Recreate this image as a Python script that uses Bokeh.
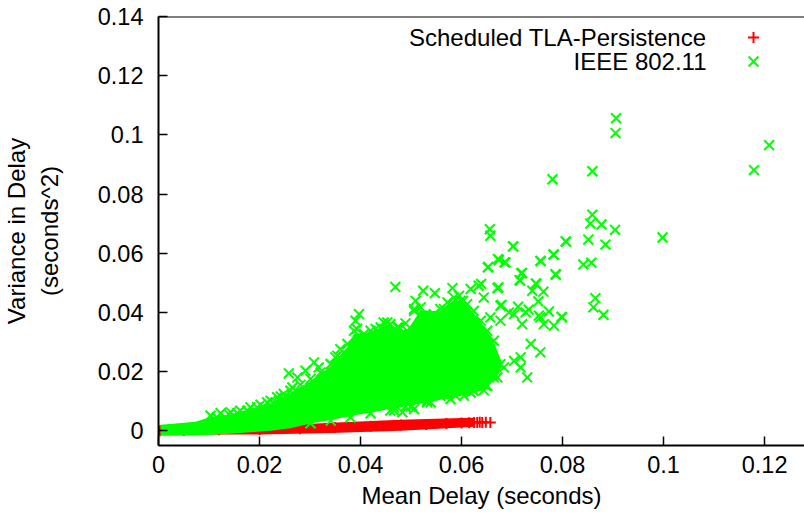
from bokeh.plotting import figure
from bokeh.models import Range1d, Span, Label, FixedTicker
from bokeh.embed import file_html
from bokeh.resources import INLINE

FONT = "Liberation Sans"

# ---------------- data ----------------
x_ticks = [0, 0.02, 0.04, 0.06, 0.08, 0.10, 0.12]
x_tick_labels = ["0", "0.02", "0.04", "0.06", "0.08", "0.1", "0.12"]
y_ticks = [0, 0.02, 0.04, 0.06, 0.08, 0.10, 0.12, 0.14]
y_tick_labels = ["0", "0.02", "0.04", "0.06", "0.08", "0.1", "0.12", "0.14"]

series_names = ["Scheduled TLA-Persistence", "IEEE 802.11"]
x_title = "Mean Delay (seconds)"
y_title = "Variance in Delay\n(seconds^2)"

# Scheduled TLA-Persistence: dense band (envelope of the overlapping markers)
red_band_x = [0.0, 0.0202, 0.0341, 0.0479, 0.0600, 0.0625]
red_band_lo = [-0.0013, -0.0013, -0.0008, 0.0000, 0.0011, 0.0013]
red_band_hi = [0.0010, 0.0014, 0.0027, 0.0037, 0.0043, 0.0044]
# individual points visible at the band's edges
red_x = [0.0003, 0.0050, 0.0120, 0.0200, 0.0280, 0.0350, 0.0420, 0.0480, 0.0530,
         0.0570, 0.0600, 0.0615, 0.0625, 0.0631, 0.0636, 0.0641, 0.0648, 0.0657]
red_y = [0.0000, 0.0001, 0.0003, 0.0004, 0.0007, 0.0011, 0.0015, 0.0019, 0.0021,
         0.0024, 0.0026, 0.0027, 0.0028, 0.0028, 0.0029, 0.0028, 0.0029, 0.0028]

# IEEE 802.11: dense cloud (envelope of the overlapping markers)
green_cloud_x = [0.0004, 0.0034, 0.0073, 0.0103, 0.0143, 0.0182, 0.0222, 0.0261, 0.0301,
                 0.0341, 0.0374, 0.0387, 0.0420, 0.0453, 0.0492, 0.0519, 0.0558, 0.0585,
                 0.0611, 0.0638, 0.0664, 0.0680]
green_cloud_hi = [0.0020, 0.0024, 0.0030, 0.0046, 0.0056, 0.0073, 0.0093, 0.0128, 0.0168,
                  0.0218, 0.0283, 0.0328, 0.0333, 0.0358, 0.0338, 0.0408, 0.0403, 0.0443,
                  0.0423, 0.0368, 0.0300, 0.0230]
green_cloud_lo = [-0.0017, -0.0017, -0.0015, -0.0014, -0.0010, -0.0005, 0.0000, 0.0008, 0.0024,
                  0.0036, 0.0047, 0.0052, 0.0061, 0.0072, 0.0083, 0.0092, 0.0105, 0.0112,
                  0.0122, 0.0135, 0.0172, 0.0215]

# individual points: upper fringe of the cloud
green_top_x = [0.0103, 0.0123, 0.0143, 0.0162, 0.0182, 0.0202, 0.0222, 0.0242, 0.0261, 0.0281,
               0.0301, 0.0321, 0.0341, 0.0354, 0.0374, 0.0387, 0.0407, 0.0420, 0.0440, 0.0453,
               0.0473, 0.0492, 0.0506, 0.0519, 0.0532, 0.0545, 0.0558, 0.0572, 0.0585, 0.0598,
               0.0611, 0.0624, 0.0638, 0.0651, 0.0664]
green_top_y = [0.0051, 0.0059, 0.0062, 0.0068, 0.0079, 0.0088, 0.0101, 0.0116, 0.0135, 0.0155,
               0.0175, 0.0197, 0.0225, 0.0253, 0.0293, 0.0338, 0.0327, 0.0338, 0.0349, 0.0366,
               0.0349, 0.0338, 0.0405, 0.0417, 0.0383, 0.0394, 0.0411, 0.0434, 0.0450, 0.0439,
               0.0428, 0.0405, 0.0372, 0.0338, 0.0304]
# individual points: lower fringe of the cloud
green_bot_x = [0.0301, 0.0341, 0.0380, 0.0420, 0.0459, 0.0466, 0.0483, 0.0499, 0.0502, 0.0532,
               0.0539, 0.0558, 0.0578, 0.0588, 0.0618, 0.0644, 0.0648, 0.0671, 0.0677]
green_bot_y = [0.0025, 0.0034, 0.0045, 0.0059, 0.0068, 0.0068, 0.0062, 0.0081, 0.0084, 0.0096,
               0.0096, 0.0118, 0.0107, 0.0118, 0.0129, 0.0137, 0.0152, 0.0180, 0.0225]
# individual points: scattered outliers
green_x = [0.0116, 0.0139, 0.0156, 0.0176, 0.0195, 0.0215, 0.0235, 0.0248, 0.0265, 0.0258,
           0.0275, 0.0291, 0.0308, 0.0317, 0.0341, 0.0350, 0.0360, 0.0374, 0.0390, 0.0397,
           0.0393, 0.0413, 0.0430, 0.0446, 0.0459, 0.0476, 0.0489, 0.0469, 0.0509, 0.0524,
           0.0547, 0.0506, 0.0565, 0.0582, 0.0603, 0.0595, 0.0618, 0.0634, 0.0639, 0.0644,
           0.0653, 0.0657, 0.0671, 0.0674, 0.0677, 0.0687, 0.0702, 0.0704, 0.0704, 0.0684,
           0.0651, 0.0605, 0.0565, 0.0506, 0.0489, 0.0466, 0.0532, 0.0624, 0.0664, 0.0717,
           0.0717, 0.0730, 0.0737, 0.0756, 0.0727, 0.0753, 0.0799, 0.0718, 0.0716, 0.0748,
           0.0756, 0.0783, 0.0786, 0.0806,
           0.0906, 0.0905, 0.1209, 0.1179, 0.0859, 0.0780, 0.0859, 0.0855, 0.0877, 0.0904,
           0.0998, 0.0656, 0.0851, 0.0885, 0.0807, 0.0782, 0.0757, 0.0841, 0.0857, 0.0787,
           0.0747, 0.0740, 0.0762, 0.0865, 0.0861, 0.0881, 0.0752, 0.0733, 0.0773, 0.0798,
           0.0756, 0.0694, 0.0657, 0.0677, 0.0720, 0.0783, 0.0763, 0.0679, 0.0712, 0.0673,
           0.0715, 0.0720, 0.0652, 0.0685, 0.0672, 0.0702]
green_y = [0.0045, 0.0056, 0.0059, 0.0068, 0.0079, 0.0096, 0.0113, 0.0124, 0.0146, 0.0194,
           0.0180, 0.0203, 0.0231, 0.0214, 0.0225, 0.0248, 0.0276, 0.0253, 0.0372, 0.0394,
           0.0344, 0.0315, 0.0344, 0.0366, 0.0360, 0.0349, 0.0363, 0.0486, 0.0439, 0.0473,
           0.0465, 0.0411, 0.0411, 0.0482, 0.0439, 0.0456, 0.0479, 0.0490, 0.0496, 0.0450,
           0.0554, 0.0659, 0.0482, 0.0577, 0.0422, 0.0569, 0.0623, 0.0394, 0.0236, 0.0214,
           0.0152, 0.0118, 0.0124, 0.0073, 0.0081, 0.0079, 0.0101, 0.0135, 0.0180, 0.0248,
           0.0214, 0.0180, 0.0293, 0.0265, 0.0400, 0.0389, 0.0383, 0.0532, 0.0507, 0.0496,
           0.0574, 0.0595, 0.0529, 0.0640,
           0.1056, 0.1006, 0.0965, 0.0881, 0.0877, 0.0850, 0.0730, 0.0700, 0.0697, 0.0679,
           0.0653, 0.0681, 0.0646, 0.0629, 0.0639, 0.0596, 0.0573, 0.0562, 0.0568, 0.0527,
           0.0498, 0.0473, 0.0470, 0.0448, 0.0417, 0.0392, 0.0437, 0.0409, 0.0403, 0.0385,
           0.0383, 0.0400, 0.0383, 0.0372, 0.0360, 0.0355, 0.0360, 0.0425, 0.0419, 0.0484,
           0.0509, 0.0533, 0.0552, 0.0569, 0.0580, 0.0623]

# ---------------- figure ----------------
X0, X1 = 0.0, 0.1279
Y0, Y1 = -0.005, 0.14
W, H = 804, 521
ML, MR, MT, MB = 158, 0, 16, 76

p = figure(width=W, height=H, x_range=Range1d(X0, X1), y_range=Range1d(Y0, Y1),
           output_backend="svg", toolbar_location=None,
           min_border_left=ML, min_border_right=MR, min_border_top=MT, min_border_bottom=MB)
p.outline_line_color = None
p.xgrid.grid_line_color = None
p.ygrid.grid_line_color = None
p.background_fill_color = "white"
p.border_fill_color = "white"

RED = "#ff0000"
GREEN = "#00ff00"
RED_SIZE, GREEN_SIZE = 11, 14

p.varea(x=red_band_x, y1=red_band_lo, y2=red_band_hi, fill_color=RED)
p.scatter(red_x, red_y, marker="cross", size=RED_SIZE, line_color=RED, line_width=2)
p.varea(x=green_cloud_x, y1=green_cloud_lo, y2=green_cloud_hi, fill_color=GREEN)
p.scatter(green_top_x + green_bot_x + green_x, green_top_y + green_bot_y + green_y,
          marker="x", size=GREEN_SIZE, line_color=GREEN, line_width=2)

# top border
p.add_layout(Span(location=Y1, dimension="width", line_color="black", line_width=2))

for ax, ticks, labels in ((p.xaxis[0], x_ticks, x_tick_labels), (p.yaxis[0], y_ticks, y_tick_labels)):
    ax.ticker = FixedTicker(ticks=ticks)
    ax.major_label_overrides = {t: l for t, l in zip(ticks, labels)}
    ax.axis_line_width = 2
    ax.axis_line_color = "black"
    ax.major_tick_in = 9
    ax.major_tick_out = 0
    ax.major_tick_line_width = 1.5
    ax.major_tick_line_color = "black"
    ax.minor_tick_line_color = None
    ax.major_label_text_font = FONT
    ax.major_label_text_font_size = "23.5px"
    ax.major_label_text_color = "black"
    ax.axis_label_text_font = FONT
    ax.axis_label_text_font_size = "24px"
    ax.axis_label_text_font_style = "normal"
    ax.axis_label_text_color = "black"

p.xaxis.axis_label = x_title
p.xaxis.major_label_standoff = 10
p.xaxis.axis_label_standoff = 6
p.yaxis.axis_label = y_title
p.yaxis.major_label_standoff = 15
p.yaxis.axis_label_standoff = 32

# legend: text right-aligned, marker to the right (gnuplot style)
frame_w = W - ML - MR
frame_h = H - MT - MB
legend_rows_y = [37, 61]       # screen px from top
legend_text_right = 706        # screen px from left
legend_marker_x = 753
for name, sy in zip(series_names, legend_rows_y):
    p.add_layout(Label(x=legend_text_right - ML, y=(H - MB) - sy, x_units="screen", y_units="screen",
                       text=name, text_align="right", text_baseline="middle",
                       text_font=FONT, text_font_size="24px", text_color="black"))
def to_data_x(sx):
    return X0 + (sx - ML) / frame_w * (X1 - X0)
def to_data_y(sy):
    return Y1 - (sy - MT) / frame_h * (Y1 - Y0)
p.scatter([to_data_x(legend_marker_x)], [to_data_y(legend_rows_y[0])], marker="cross", size=RED_SIZE,
          line_color=RED, line_width=2)
p.scatter([to_data_x(legend_marker_x)], [to_data_y(legend_rows_y[1])], marker="x", size=GREEN_SIZE,
          line_color=GREEN, line_width=2)

open("out.html", "w").write(file_html(p, INLINE))
